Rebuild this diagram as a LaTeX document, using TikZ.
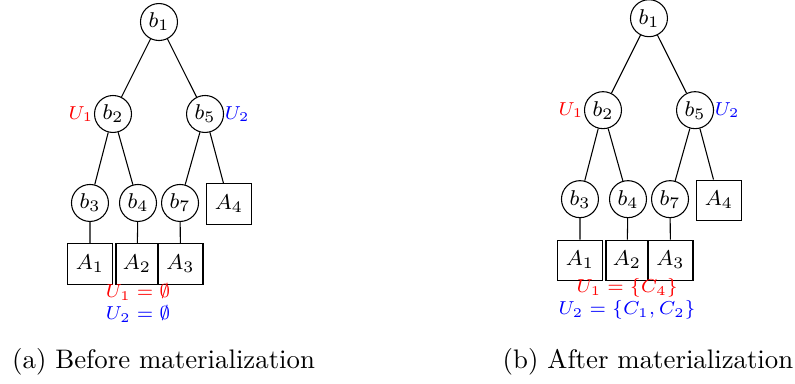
\documentclass[tikz,border=0pt]{standalone}
\usepackage{amsmath}
\usepackage{amssymb}
\usepackage{tikz}
\usetikzlibrary{positioning}
\tikzset{
  bn/.style={circle,draw=black,minimum size=13.8pt,inner sep=0pt,font=\footnotesize},
  an/.style={rectangle,draw=black,minimum width=16.8pt,minimum height=15pt,inner sep=0pt,font=\footnotesize},
  edg/.style={draw=black,line width=.4pt},
  uo/.style={text=red,font=\scriptsize,inner sep=0pt},
  ut/.style={text=blue,font=\scriptsize,inner sep=0pt},
  capn/.style={font=\normalsize,anchor=base},
}

\begin{document}
\begin{tikzpicture}
\useasboundingbox (0,0) rectangle (10.426,5.023);
\begin{scope}
  \node[bn] (pb1) at (2.085,4.734) {$b_1$};
  \node[bn] (pb2) at (1.482,3.528) {$b_2$}; \node[bn] (pb5) at (2.689,3.528) {$b_5$};
  \node[bn] (pb3) at (1.180,2.361) {$b_3$}; \node[bn] (pb4) at (1.810,2.361) {$b_4$};
  \node[bn] (pb7) at (2.361,2.361) {$b_7$};
  \node[an] (pa4) at (3.003,2.348) {$A_4$};
  \node[an] (pa1) at (1.180,1.561) {$A_1$};
  \node[an,minimum width=15.7pt] (pa2) at (1.797,1.561) {$A_2$};
  \node[an] (pa3) at (2.367,1.561) {$A_3$};
  \draw[edg] (pb1)--(pb2) (pb1)--(pb5) (pb2)--(pb3) (pb2)--(pb4)
    (pb5)--(pb7) (pb5)--(pa4) (pb3)--(pa1) (pb4)--(pa2) (pb7)--(pa3);
  \node[uo,anchor=east] (pu1) at (pb2.west) {$U_1$};
  \node[ut,anchor=west] (pu2) at (pb5.east) {$U_2$};
  \node[uo] (ps1) at (1.810,1.193) {$U_1=\emptyset$};
  \node[ut] (ps2) at (1.810,0.905) {$U_2=\emptyset$};
  \node[capn] (pcap) at (2.145,0.184) {(a) Before materialization};
\end{scope}
\begin{scope}[xshift=6.426cm,yshift=0.05cm]
  \node[bn] (qb1) at (2.085,4.734) {$b_1$};
  \node[bn] (qb2) at (1.482,3.528) {$b_2$}; \node[bn] (qb5) at (2.689,3.528) {$b_5$};
  \node[bn] (qb3) at (1.180,2.361) {$b_3$}; \node[bn] (qb4) at (1.810,2.361) {$b_4$};
  \node[bn] (qb7) at (2.361,2.361) {$b_7$};
  \node[an] (qa4) at (3.003,2.348) {$A_4$};
  \node[an] (qa1) at (1.180,1.561) {$A_1$};
  \node[an,minimum width=15.7pt] (qa2) at (1.797,1.561) {$A_2$};
  \node[an] (qa3) at (2.367,1.561) {$A_3$};
  \draw[edg] (qb1)--(qb2) (qb1)--(qb5) (qb2)--(qb3) (qb2)--(qb4)
    (qb5)--(qb7) (qb5)--(qa4) (qb3)--(qa1) (qb4)--(qa2) (qb7)--(qa3);
  \node[uo,anchor=east] (qu1) at (qb2.west) {$U_1$};
  \node[ut,anchor=west] (qu2) at (qb5.east) {$U_2$};
  \node[uo] (qs1) at (1.797,1.193) {$U_1=\{C_4\}$};
  \node[ut] (qs2) at (1.797,0.905) {$U_2=\{C_1,C_2\}$};
  \node[capn] (qcap) at (2.072,0.134) {(b) After materialization};
\end{scope}
\end{tikzpicture}
\end{document}
